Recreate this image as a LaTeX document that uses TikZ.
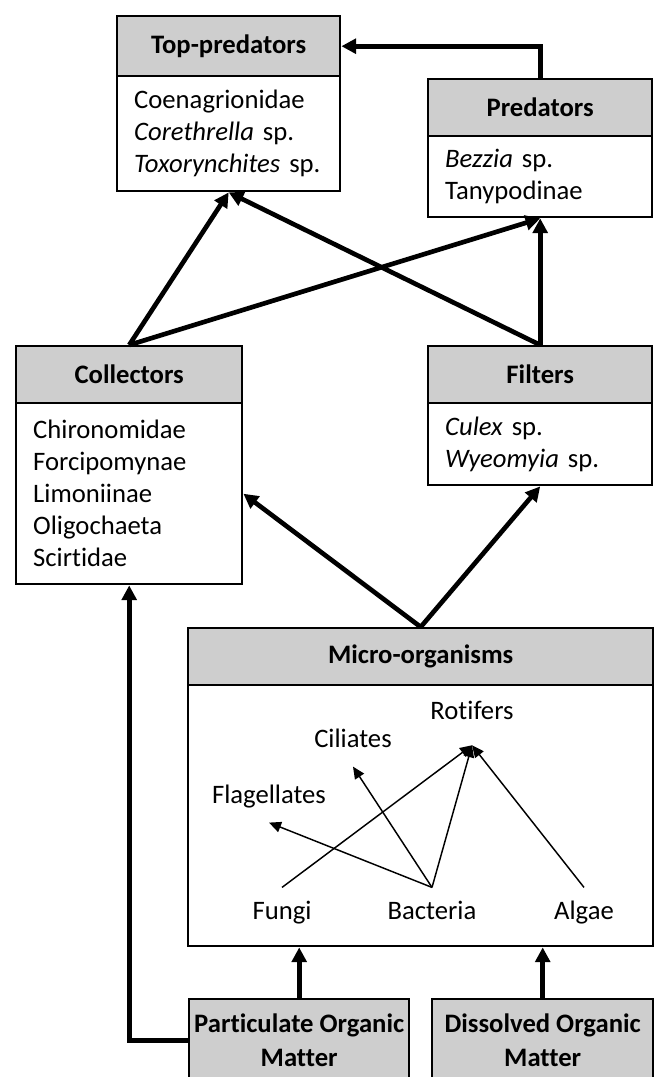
\documentclass[tikz,border=0pt]{standalone}
\usepackage{fontspec}
\setmainfont{Carlito}[Ligatures=NoCommon]
\usetikzlibrary{arrows.meta}
\definecolor{headgray}{RGB}{206,206,206}

\tikzset{
  groupbox/.style={draw, line width=1.8pt, anchor=north west},
  grouphead/.style={groupbox, fill=headgray, inner sep=0pt, font=\fontsize{20}{25.5}\selectfont\bfseries},
  groupbody/.style={groupbox, fill=white, align=left, inner xsep=12.75pt, inner ysep=0pt, font=\fontsize{20}{24}\selectfont},
  feedarrow/.style={line width=3.5pt, -{Triangle[length=11pt, width=11pt]}},
  innerarrow/.style={line width=1.1pt, -{Triangle[length=9pt, width=8pt]}},
  taxon/.style={inner sep=0pt, text height=13pt, text depth=4pt, minimum height=38pt, font=\fontsize{20}{24}\selectfont}
}

\begin{document}
\begin{tikzpicture}[x=0.75pt, y=-0.75pt]
  \useasboundingbox (0,0) rectangle (653,1077);

  % top-predators and predators
  \node[grouphead, minimum width=167.25pt, minimum height=45pt] (tophead) at (116,15) {Top-predators};
  \node[groupbody, text width=141.75pt, minimum height=86.25pt] (topbody) at (116,75)
    {Coenagrionidae\\\textit{Corethrella} sp.\\\textit{Toxorynchites} sp.};
  \node[grouphead, minimum width=168pt, minimum height=42.75pt] (predhead) at (427,78) {Predators};
  \node[groupbody, text width=142.5pt, minimum height=60.75pt] (predbody) at (427,135)
    {\textit{Bezzia} sp.\\Tanypodinae};

  % collectors and filters
  \node[grouphead, minimum width=169.5pt, minimum height=42.75pt] (collhead) at (15,345) {Collectors};
  \node[groupbody, text width=144pt, minimum height=135.75pt] (collbody) at (15,402)
    {Chironomidae\\Forcipomynae\\Limoniinae\\Oligochaeta\\Scirtidae};
  \node[grouphead, minimum width=168pt, minimum height=42.75pt] (filthead) at (427,345) {Filters};
  \node[groupbody, text width=142.5pt, minimum height=61.5pt] (filtbody) at (427,402)
    {\textit{Culex} sp.\\\textit{Wyeomyia} sp.};

  % micro-organisms
  \node[grouphead, minimum width=348.75pt, minimum height=42.75pt] (microhead) at (187,627) {Micro-organisms};
  \node[groupbody, minimum width=348.75pt, minimum height=195.75pt] (microbody) at (187,684) {};

  \node[taxon, minimum height=48pt] (rotifers) at (472,713) {Rotifers};
  \node[taxon] (ciliates) at (353,741) {Ciliates};
  \node[taxon] (flagellates) at (269,797) {Flagellates};
  \node[taxon] (fungi) at (282,913) {Fungi};
  \node[taxon] (bacteria) at (432,913) {Bacteria};
  \node[taxon] (algae) at (584,913) {Algae};

  \draw[innerarrow] (fungi.north) -- (rotifers.south);
  \draw[innerarrow] (bacteria.north) -- (rotifers.south);
  \draw[innerarrow] (algae.north) -- (rotifers.south);
  \draw[innerarrow] (bacteria.north) -- (ciliates.south);
  \draw[innerarrow] (bacteria.north) -- (flagellates.south);

  % organic matter
  \node[grouphead, minimum width=165pt, minimum height=61.5pt, align=center] (pom) at (188,998)
    {Particulate Organic\\Matter};
  \node[grouphead, minimum width=165.75pt, minimum height=61.5pt, align=center] (dom) at (431,998)
    {Dissolved Organic\\Matter};

  % feeding links
  \draw[feedarrow] (predhead.north) |- (tophead.east);
  \draw[feedarrow] (collhead.north) -- (topbody.south);
  \draw[feedarrow] (collhead.north) -- (predbody.south);
  \draw[feedarrow] (filthead.north) -- (topbody.south);
  \draw[feedarrow] (filthead.north) -- (predbody.south);
  \draw[feedarrow] (microhead.north) -- (collbody.east);
  \draw[feedarrow] (microhead.north) -- (filtbody.south);
  \draw[feedarrow] (pom.north) -- (pom.north |- microbody.south);
  \draw[feedarrow] (dom.north) -- (dom.north |- microbody.south);
  \draw[feedarrow] (pom.west) -| (collbody.south);
\end{tikzpicture}
\end{document}
